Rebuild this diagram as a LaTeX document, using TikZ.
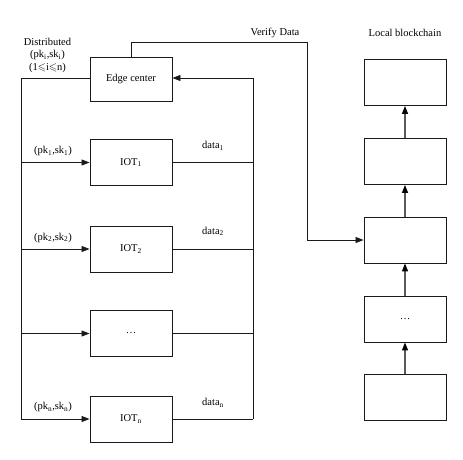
\documentclass[tikz,border=0pt]{standalone}
\usepackage{amssymb}
\usepackage{fontspec}
\setmainfont{Liberation Serif}
\usetikzlibrary{arrows.meta,positioning}
\definecolor{tinta}{HTML}{1a1a1a}
\definecolor{cadeia}{HTML}{5a5a5a}

\begin{document}
\begin{tikzpicture}[x=1pt,y=-1pt,font=\fontsize{10.5}{12}\selectfont,
  caixa/.style={draw=tinta, line width=0.9pt, minimum width=82pt, minimum height=46pt, inner sep=0pt},
  seta/.style={-{Triangle[length=8pt,width=6pt]}, line width=0.8pt, draw=tinta},
  elo/.style={-{Triangle[length=8pt,width=6pt,color=black]}, line width=1.3pt, draw=cadeia}]
\useasboundingbox (0,0) rectangle (463,460);
% edge center and devices
\node[caixa, minimum height=44pt] (edge) at (131,79) {Edge center};
\node[caixa] (iot1) at (131,162.5) {IOT\textsubscript{1}};
\node[caixa] (iot2) at (131,249) {IOT\textsubscript{2}};
\node[caixa] (iotd) at (131,333.5) {\dots};
\node[caixa] (iotn) at (131,419) {IOT\textsubscript{n}};
% trunk corners
\coordinate (tl) at (21,78);
\coordinate (bl) at (21,419);
\coordinate (tr) at (253,78);
\coordinate (br) at (253,419);
\coordinate (vd) at (307,42);
% key distribution (left)
\draw[line width=0.8pt, tinta] (edge.west |- tl) -- (tl) -- (bl);
\foreach \n in {iot1,iot2,iotd,iotn} \draw[seta] (tl |- \n.west) -- (\n.west);
% data return (right)
\foreach \n in {iot1,iot2,iotd,iotn} \draw[line width=0.8pt, tinta] (\n.east) -- (tr |- \n.east);
\draw[line width=0.8pt, tinta] (br) -- (tr);
\draw[seta] (tr) -- (edge.east |- tr);
% labels
\node (dist) at (47.5,42) {Distributed};
\node (dpk) at (47.5,55) {(pk\textsubscript{i},sk\textsubscript{i})};
\node (dlim) at (47.5,68) {(1$\leqslant$i$\leqslant$n)};
\node (k1) at (53,151) {(pk\textsubscript{1},sk\textsubscript{1})};
\node (k2) at (53,237.5) {(pk\textsubscript{2},sk\textsubscript{2})};
\node (kn) at (53,407) {(pk\textsubscript{n},sk\textsubscript{n})};
\node (d1) at (213,146) {data\textsubscript{1}};
\node (d2) at (213,231.5) {data\textsubscript{2}};
\node (dn) at (213,403) {data\textsubscript{n}};
\node (vlab) at (275,33) {Verify Data};
\node (clab) at (405,33) {Local blockchain};
% local blockchain
\node[caixa] (b1) at (405,82.5) {};
\node[caixa] (b2) at (405,161.5) {};
\node[caixa] (b3) at (405,240) {};
\node[caixa] (b4) at (405,319) {\dots};
\node[caixa] (b5) at (405,397) {};
\foreach \a/\b in {b5/b4,b4/b3,b3/b2,b2/b1} \draw[elo] (\a.north) -- (\b.south);
% verify path
\draw[seta] (edge.north) |- (vd) |- (b3.west);
\end{tikzpicture}
\end{document}
